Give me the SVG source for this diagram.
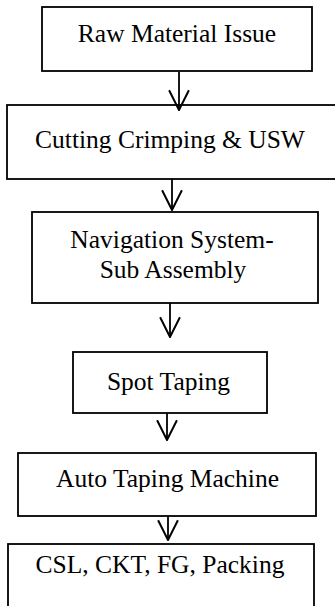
<svg xmlns="http://www.w3.org/2000/svg" width="335" height="606" viewBox="0 0 335 606">
<style>
.box{fill:#fff;stroke:#000;stroke-width:1.8}
.t{font-family:'Liberation Serif','Times New Roman','DejaVu Serif',serif;font-size:25.5px;fill:#000;text-anchor:middle}
.c{fill:none;stroke:#000;stroke-width:1.8}
</style>
<defs>
<marker id="ah" markerUnits="userSpaceOnUse" markerWidth="22" markerHeight="22" refX="19" refY="10" orient="auto" viewBox="0 0 20 20">
<path d="M1,1 L19,10 L1,19" fill="none" stroke="#000" stroke-width="1.8"/>
</marker>
</defs>
<g id="n1"><rect class="box" x="42" y="7" width="270" height="64"/><text class="t" x="177" y="42" font-family="Liberation Serif, serif">Raw Material Issue</text></g>
<g id="n2"><rect class="box" x="7" y="105" width="340" height="74"/><text class="t" x="170" y="148" font-family="Liberation Serif, serif">Cutting Crimping &amp; USW</text></g>
<g id="n3"><rect class="box" x="32" y="212" width="286" height="91"/><text class="t" x="172" y="248" font-family="Liberation Serif, serif">Navigation System-</text><text class="t" x="173" y="278" font-family="Liberation Serif, serif">Sub Assembly</text></g>
<g id="n4"><rect class="box" x="73" y="352" width="194" height="61"/><text class="t" x="168.5" y="390" font-family="Liberation Serif, serif">Spot Taping</text></g>
<g id="n5"><rect class="box" x="18" y="453" width="298" height="63"/><text class="t" x="167.5" y="487" font-family="Liberation Serif, serif">Auto Taping Machine</text></g>
<g id="n6"><rect class="box" x="8" y="544" width="306" height="80"/><text class="t" x="160" y="573" font-family="Liberation Serif, serif">CSL, CKT, FG, Packing</text></g>
<g id="connectors">
<path class="c" d="M179,72 V110" marker-end="url(#ah)"/>
<path class="c" d="M172,179 V210" marker-end="url(#ah)"/>
<path class="c" d="M170,303 V337" marker-end="url(#ah)"/>
<path class="c" d="M167,413 V440" marker-end="url(#ah)"/>
<path class="c" d="M168,516 V540" marker-end="url(#ah)"/>
</g>
</svg>
